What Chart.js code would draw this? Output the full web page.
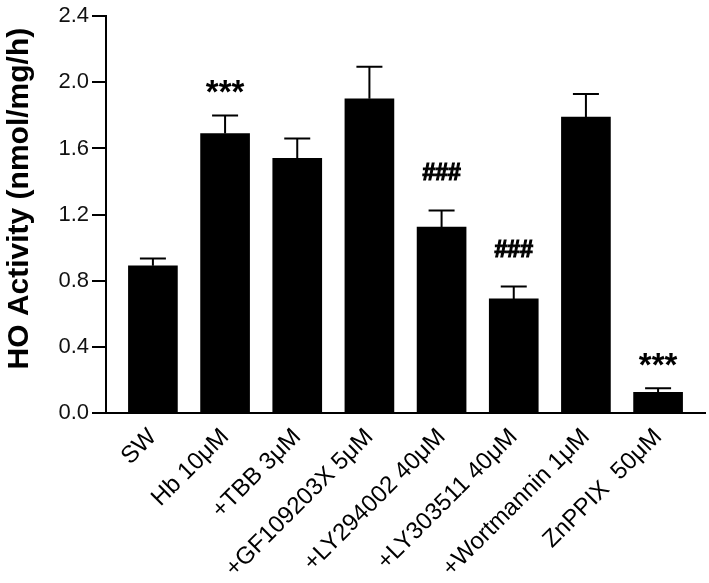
<!DOCTYPE html>
<html>
<head>
<meta charset="utf-8">
<script src="https://cdn.jsdelivr.net/npm/chart.js@4.4.1/dist/chart.umd.min.js"></script>
<style>
  html, body { margin: 0; padding: 0; background: #fff; }
  #wrap { width: 709px; height: 583px; }
</style>
</head>
<body>
<div id="wrap"><canvas id="chart" width="709" height="583"></canvas></div>
<script>
const categories = ['SW', 'Hb 10\u03bcM', '+TBB 3\u03bcM', '+GF109203X 5\u03bcM', '+LY294002 40\u03bcM',
  '+LY303511 40\u03bcM', '+Wortmannin 1\u03bcM', 'ZnPPIX  50\u03bcM'];
const activity = [0.89, 1.69, 1.54, 1.90, 1.125, 0.69, 1.79, 0.125];
const sem = [0.045, 0.11, 0.12, 0.195, 0.10, 0.075, 0.14, 0.025];
const marks = ['', '***', '', '', '###', '###', '', '***'];
const yTicks = [0.0, 0.4, 0.8, 1.2, 1.6, 2.0, 2.4];
const yTitle = 'HO Activity (nmol/mg/h)';

const FONT = '"Liberation Sans", Arial, sans-serif';

// error bars, significance marks and the y title (sits a bit above centre in the original)
const extras = {
  id: 'extras',
  afterDatasetsDraw(chart) {
    const { ctx, scales: { x, y } } = chart;
    ctx.save();
    ctx.strokeStyle = '#000';
    ctx.lineWidth = 2;
    ctx.fillStyle = '#000';
    ctx.textAlign = 'center';
    ctx.textBaseline = 'alphabetic';
    activity.forEach((v, i) => {
      const px = x.getPixelForValue(i);
      const top = y.getPixelForValue(v);
      const cap = y.getPixelForValue(v + sem[i]);
      ctx.beginPath();
      ctx.moveTo(px, top);
      ctx.lineTo(px, cap);
      ctx.moveTo(px - 13, cap);
      ctx.lineTo(px + 13, cap);
      ctx.stroke();
      if (marks[i]) {
        const star = marks[i][0] === '*';
        ctx.font = (star ? 'bold 33px ' : 'bold 23px ') + FONT;
        ctx.fillText(marks[i], px, cap - (star ? 12 : 30));
        if (!star) {
          // the hashes are heavier in the original
          ctx.lineWidth = 1.2;
          ctx.strokeText(marks[i], px, cap - 30);
          ctx.lineWidth = 2;
        }
      }
    });
    ctx.translate(20, (y.top + y.bottom) / 2 - 16);
    ctx.rotate(-Math.PI / 2);
    ctx.textBaseline = 'middle';
    ctx.font = 'bold 30px ' + FONT;
    ctx.fillText(yTitle, 0, 0);
    ctx.restore();
  }
};

new Chart(document.getElementById('chart'), {
  type: 'bar',
  data: {
    datasets: [{
      data: activity.map((v, i) => ({ x: i, y: v })),
      backgroundColor: '#000',
      borderWidth: 0,
      barThickness: 49
    }]
  },
  options: {
    responsive: false,
    animation: false,
    layout: { padding: { top: 14, right: 4, left: 0, bottom: 0 } },
    plugins: { legend: { display: false }, tooltip: { enabled: false } },
    scales: {
      x: {
        type: 'linear',
        min: -0.65,
        max: 7.65,
        offset: false,
        grid: { display: false, offset: false },
        border: { display: true, color: '#000', width: 2 },
        ticks: {
          stepSize: 1,
          includeBounds: false,
          autoSkip: false,
          maxRotation: 45,
          minRotation: 45,
          padding: 2,
          color: '#000',
          font: { family: FONT, size: 24 },
          callback: v => Number.isInteger(v) ? categories[v] : ''
        },
        afterFit: s => { s.height = 170; }
      },
      y: {
        min: 0,
        max: 2.4,
        afterBuildTicks: s => { s.ticks = yTicks.map(v => ({ value: v })); },
        grid: { display: true, drawOnChartArea: false, drawTicks: true, tickLength: 14, color: '#000', lineWidth: 2 },
        border: { display: true, color: '#000', width: 2 },
        ticks: {
          padding: 3,
          color: '#111',
          font: { family: FONT, size: 22 },
          callback: v => v.toFixed(1)
        },
        afterFit: s => { s.width = 106; }
      }
    }
  },
  plugins: [extras]
});
</script>
</body>
</html>
